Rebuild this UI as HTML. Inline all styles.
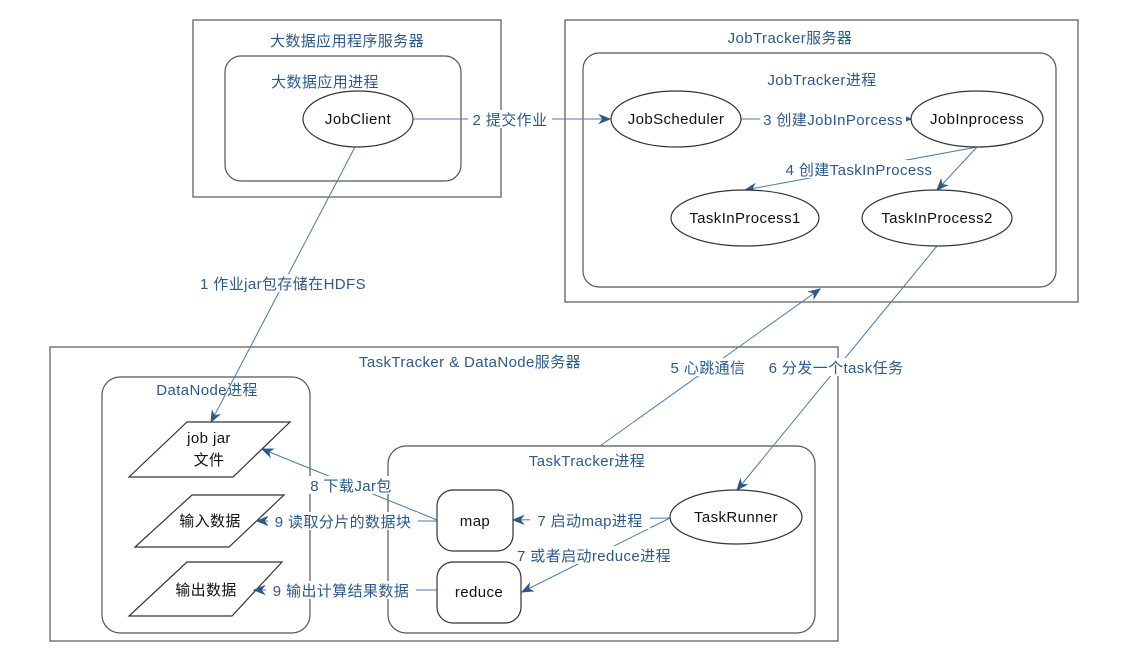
<!DOCTYPE html>
<html><head><meta charset="utf-8"><style>
html,body{margin:0;padding:0;background:#fff;}
svg text{font-family:"Liberation Sans","Noto Sans CJK SC",sans-serif;font-size:15px;letter-spacing:0.4px;}
.t{fill:#2b5a8a;}
.k{fill:#111;}
.b{fill:none;stroke:#555;stroke-width:1.2;}
.n{fill:#fff;stroke:#333;stroke-width:1.2;}
.l{stroke:#4a7aaa;stroke-width:1;fill:none;}
.lb{fill:#fff;}
</style></head><body>
<svg width="1124" height="664" viewBox="0 0 1124 664" xmlns="http://www.w3.org/2000/svg">
<defs><marker id="a" viewBox="0 0 10 10" refX="9" refY="5" markerWidth="13" markerHeight="13" markerUnits="userSpaceOnUse" orient="auto"><path d="M0,1 L10,5 L0,9 L3,5 z" fill="#2b5a8a"/></marker></defs>

<rect class="b" x="193" y="20" width="308" height="177"/>
<rect class="b" x="225" y="56" width="236" height="125" rx="16"/>
<rect class="b" x="565" y="20" width="513" height="282"/>
<rect class="b" x="583" y="53" width="473" height="234" rx="16"/>
<rect class="b" x="50" y="347" width="788" height="294"/>
<rect class="b" x="102" y="377" width="208" height="256" rx="18"/>
<rect class="b" x="388" y="446" width="427" height="187" rx="18"/>

<text class="t" x="347" y="46" text-anchor="middle">大数据应用程序服务器</text>
<text class="t" x="325" y="87" text-anchor="middle">大数据应用进程</text>
<text class="t" x="790" y="43" text-anchor="middle">JobTracker服务器</text>
<text class="t" x="822" y="85" text-anchor="middle">JobTracker进程</text>
<text class="t" x="470" y="367" text-anchor="middle">TaskTracker &amp; DataNode服务器</text>
<text class="t" x="207" y="395" text-anchor="middle">DataNode进程</text>
<text class="t" x="587" y="466" text-anchor="middle">TaskTracker进程</text>

<polygon class="n" points="187,422 290,422 233,477 129,477"/>
<text class="k" x="209" y="443" text-anchor="middle">job jar</text>
<text class="k" x="209" y="465" text-anchor="middle">文件</text>
<polygon class="n" points="192,495 284,495 229,547 135,547"/>
<text class="k" x="210" y="526" text-anchor="middle">输入数据</text>
<polygon class="n" points="187,562 282,562 232,616 129,616"/>
<text class="k" x="206" y="595" text-anchor="middle">输出数据</text>

<line class="l" x1="413" y1="119" x2="610" y2="119" marker-end="url(#a)"/>
<line class="l" x1="741" y1="119" x2="911" y2="119" marker-end="url(#a)"/>
<line class="l" x1="977" y1="147" x2="745" y2="190" marker-end="url(#a)"/>
<line class="l" x1="977" y1="147" x2="937" y2="190" marker-end="url(#a)"/>
<line class="l" x1="355" y1="147" x2="211" y2="422" marker-end="url(#a)"/>
<line class="l" x1="600" y1="446" x2="820" y2="289" marker-end="url(#a)"/>
<line class="l" x1="937" y1="246" x2="737" y2="490" marker-end="url(#a)"/>
<line class="l" x1="437" y1="520" x2="262" y2="449" marker-end="url(#a)"/>
<line class="l" x1="437" y1="521" x2="257" y2="521" marker-end="url(#a)"/>
<line class="l" x1="437" y1="590" x2="254" y2="590" marker-end="url(#a)"/>
<line class="l" x1="670" y1="518" x2="513" y2="520" marker-end="url(#a)"/>
<line class="l" x1="670" y1="518" x2="522" y2="592" marker-end="url(#a)"/>

<rect class="lb" x="468" y="110" width="84" height="18"/>
<text class="t" x="510" y="125" text-anchor="middle">2 提交作业</text>
<rect class="lb" x="760" y="110" width="146" height="18"/>
<text class="t" x="833" y="125" text-anchor="middle">3 创建JobInPorcess</text>
<rect class="lb" x="776" y="160" width="166" height="18"/>
<text class="t" x="859" y="175" text-anchor="middle">4 创建TaskInProcess</text>
<rect class="lb" x="193" y="274" width="180" height="18"/>
<text class="t" x="283" y="289" text-anchor="middle">1 作业jar包存储在HDFS</text>
<rect class="lb" x="666" y="358" width="84" height="18"/>
<text class="t" x="708" y="373" text-anchor="middle">5 心跳通信</text>
<rect class="lb" x="760" y="358" width="152" height="18"/>
<text class="t" x="836" y="373" text-anchor="middle">6 分发一个task任务</text>
<rect class="lb" x="306" y="476" width="90" height="18"/>
<text class="t" x="351" y="491" text-anchor="middle">8 下载Jar包</text>
<rect class="lb" x="268" y="512" width="150" height="18"/>
<text class="t" x="343" y="527" text-anchor="middle">9 读取分片的数据块</text>
<rect class="lb" x="266" y="581" width="150" height="18"/>
<text class="t" x="341" y="596" text-anchor="middle">9 输出计算结果数据</text>
<rect class="lb" x="530" y="511" width="120" height="18"/>
<text class="t" x="590" y="526" text-anchor="middle">7 启动map进程</text>
<rect class="lb" x="510" y="546" width="168" height="18"/>
<text class="t" x="594" y="561" text-anchor="middle">7 或者启动reduce进程</text>

<ellipse class="n" cx="358" cy="119" rx="55" ry="28"/>
<text class="k" x="358" y="124" text-anchor="middle">JobClient</text>
<ellipse class="n" cx="676" cy="119" rx="65" ry="28"/>
<text class="k" x="676" y="124" text-anchor="middle">JobScheduler</text>
<ellipse class="n" cx="977" cy="119" rx="66" ry="28"/>
<text class="k" x="977" y="124" text-anchor="middle">JobInprocess</text>
<ellipse class="n" cx="745" cy="218" rx="74" ry="28"/>
<text class="k" x="745" y="223" text-anchor="middle">TaskInProcess1</text>
<ellipse class="n" cx="937" cy="218" rx="75" ry="28"/>
<text class="k" x="937" y="223" text-anchor="middle">TaskInProcess2</text>
<ellipse class="n" cx="736" cy="517" rx="66" ry="27"/>
<text class="k" x="736" y="522" text-anchor="middle">TaskRunner</text>
<rect class="n" x="437" y="490" width="76" height="61" rx="16"/>
<text class="k" x="475" y="526" text-anchor="middle">map</text>
<rect class="n" x="437" y="562" width="84" height="61" rx="16"/>
<text class="k" x="479" y="597" text-anchor="middle">reduce</text>
</svg>
</body></html>
